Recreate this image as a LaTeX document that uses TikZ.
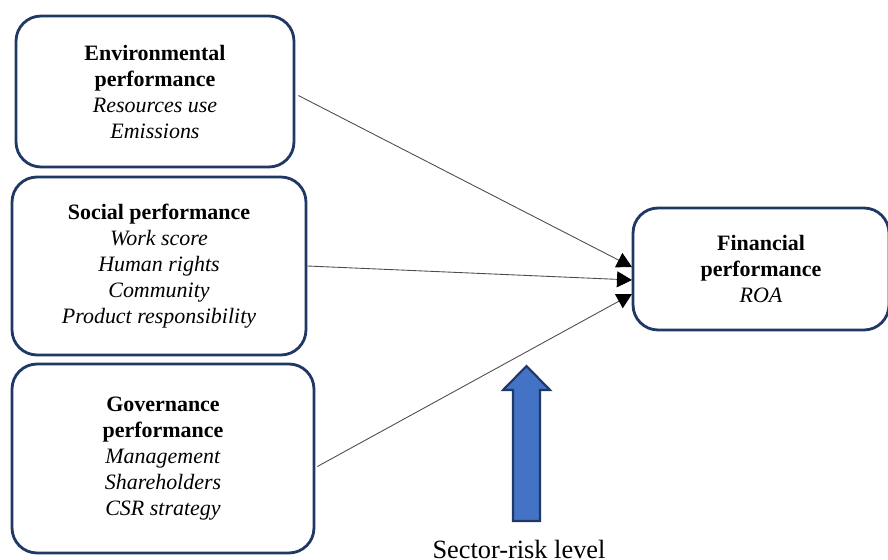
\documentclass[tikz,border=0pt]{standalone}
\usepackage{fontspec}
\setmainfont{Liberation Serif}
\usetikzlibrary{arrows.meta}
\definecolor{boxline}{HTML}{1F3864}
\definecolor{riskblue}{HTML}{4472C4}
\tikzset{
  pillar/.style={draw=boxline,line width=1.6pt,rounded corners=0.5cm,align=center,
    font=\fontsize{12.5}{14.8}\selectfont,inner sep=0pt},
  link/.style={draw=black!70,line width=0.5pt,-{Triangle[length=0.3cm,width=0.32cm,black]}}
}
\begin{document}
\begin{tikzpicture}[x=0.02cm,y=-0.02cm]
  \useasboundingbox (0,0) rectangle (888,560);
  \node[pillar,minimum width=5.56cm,minimum height=3.02cm] (env) at (155,91.5)
    {\textbf{Environmental}\\\textbf{performance}\\\textit{Resources use}\\\textit{Emissions}};
  \node[pillar,minimum width=5.88cm,minimum height=3.56cm] (soc) at (159,266)
    {\textbf{Social performance}\\\textit{Work score}\\\textit{Human rights}\\\textit{Community}\\\textit{Product responsibility}};
  \node[pillar,minimum width=6.04cm,minimum height=3.78cm] (gov) at (163,458.5)
    {\textbf{Governance}\\\textbf{performance}\\\textit{Management}\\\textit{Shareholders}\\\textit{CSR strategy}};
  \node[pillar,minimum width=5.12cm,minimum height=2.44cm] (fin) at (761,269)
    {\textbf{Financial}\\\textbf{performance}\\\textit{ROA}};
  % arrow tips on the left side of the financial box
  \coordinate (inA) at (632,267);
  \coordinate (inB) at (632,280);
  \coordinate (inC) at (632,294);
  \draw[link] (env.east) ++(3,4) -- (inA);
  \draw[link] (soc.east) -- (inB);
  \draw[link] (gov.east) ++(2,8) -- (inC);
  % sector risk
  \draw[draw=boxline,fill=riskblue,line width=1.2pt] (513,521) -- (513,390) -- (503,390)
    -- (526.5,366) -- (550,390) -- (540,390) -- (540,521) -- cycle;
  \node[font=\fontsize{15}{18}\selectfont] (risk) at (519,549) {Sector-risk level};
\end{tikzpicture}
\end{document}
